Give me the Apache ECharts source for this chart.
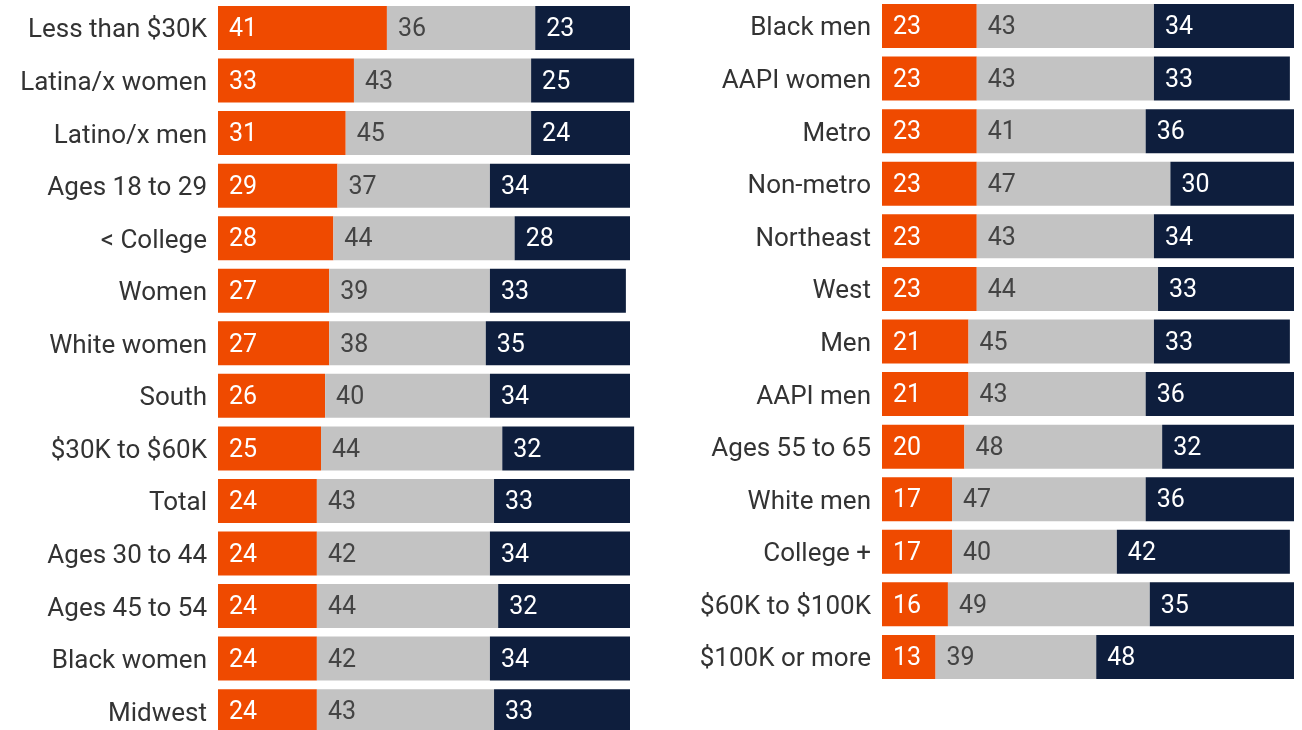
<!DOCTYPE html>
<html>
<head>
<meta charset="utf-8">
<script src="https://cdn.jsdelivr.net/npm/echarts@6/dist/echarts.min.js"></script>
<style>
  html, body { margin: 0; padding: 0; background: #fff; }
  #chart { width: 1302px; height: 730px; }
</style>
</head>
<body>
<div id="chart"></div>
<script>
// Left column
const leftCats = ['Less than $30K', 'Latina/x women', 'Latino/x men', 'Ages 18 to 29', '< College', 'Women',
  'White women', 'South', '$30K to $60K', 'Total', 'Ages 30 to 44', 'Ages 45 to 54', 'Black women', 'Midwest'];
const leftA = [41, 33, 31, 29, 28, 27, 27, 26, 25, 24, 24, 24, 24, 24];
const leftB = [36, 43, 45, 37, 44, 39, 38, 40, 44, 43, 42, 44, 42, 43];
const leftC = [23, 25, 24, 34, 28, 33, 35, 34, 32, 33, 34, 32, 34, 33];

// Right column
const rightCats = ['Black men', 'AAPI women', 'Metro', 'Non-metro', 'Northeast', 'West', 'Men', 'AAPI men',
  'Ages 55 to 65', 'White men', 'College +', '$60K to $100K', '$100K or more'];
const rightA = [23, 23, 23, 23, 23, 23, 21, 21, 20, 17, 17, 16, 13];
const rightB = [43, 43, 41, 47, 43, 44, 45, 43, 48, 47, 40, 49, 39];
const rightC = [34, 33, 36, 30, 34, 33, 33, 36, 32, 36, 42, 35, 48];

const colors = ['#EF4A00', '#C3C3C3', '#0E1E3D'];
const labelColors = ['#ffffff', '#444444', '#ffffff'];
const FONT = 'Roboto';
const UNIT = 4.12;      // px per percentage point
const XMAX = 101;

function seriesFor(idx, arrs) {
  return arrs.map((d, k) => ({
    type: 'bar',
    stack: 'p' + idx,
    xAxisIndex: idx,
    yAxisIndex: idx,
    data: d,
    barWidth: 44,
    itemStyle: { color: colors[k] },
    label: {
      show: true,
      position: 'insideLeft',
      distance: 11,
      offset: [0, 2],
      color: labelColors[k],
      fontFamily: FONT,
      fontSize: 25,
      fontWeight: 'normal'
    },
    emphasis: { disabled: true },
    animation: false
  }));
}

const chart = echarts.init(document.getElementById('chart'));
chart.setOption({
  animation: false,
  grid: [
    { left: 218, top: 1.7, width: UNIT * XMAX, height: 14 * 52.55, outerBoundsMode: 'none', containLabel: false },
    { left: 882, top: -0.3, width: UNIT * XMAX, height: 13 * 52.58, outerBoundsMode: 'none', containLabel: false }
  ],
  xAxis: [0, 1].map(i => ({
    gridIndex: i, type: 'value', min: 0, max: XMAX, show: false
  })),
  yAxis: [leftCats, rightCats].map((cats, i) => ({
    gridIndex: i,
    type: 'category',
    data: cats,
    inverse: true,
    axisLine: { show: false },
    axisTick: { show: false },
    splitLine: { show: false },
    axisLabel: {
      margin: 11,
      formatter: v => '{c|' + v + '}',
      rich: {
        c: {
          padding: [6, 0, 0, 0],
          color: '#333333',
          fontFamily: FONT,
          fontSize: 26
        }
      }
    }
  })),
  series: [
    ...seriesFor(0, [leftA, leftB, leftC]),
    ...seriesFor(1, [rightA, rightB, rightC])
  ]
});
</script>
</body>
</html>
